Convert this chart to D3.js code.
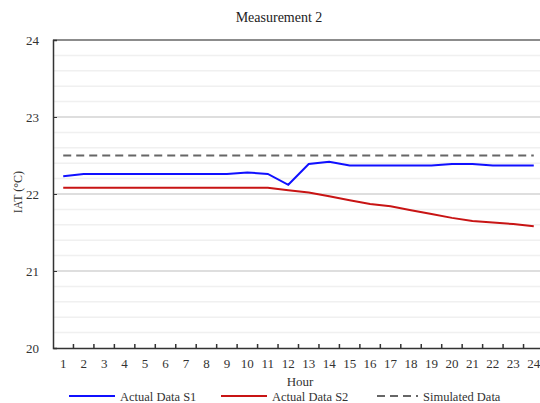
<!DOCTYPE html>
<html>
<head>
<meta charset="utf-8">
<script src="https://cdn.jsdelivr.net/npm/d3@7"></script>
<style>
  body { margin: 0; background: #fff; }
  svg { display: block; font-family: "Liberation Serif", "Times New Roman", serif; }
</style>
</head>
<body>
<div id="chart"></div>
<script>
const hours = d3.range(1, 25);
const actualS1 = [22.23, 22.26, 22.26, 22.26, 22.26, 22.26, 22.26, 22.26, 22.26, 22.28, 22.26, 22.12,
                  22.39, 22.42, 22.37, 22.37, 22.37, 22.37, 22.37, 22.39, 22.39, 22.37, 22.37, 22.37];
const actualS2 = [22.08, 22.08, 22.08, 22.08, 22.08, 22.08, 22.08, 22.08, 22.08, 22.08, 22.08, 22.05,
                  22.02, 21.97, 21.92, 21.87, 21.84, 21.79, 21.74, 21.69, 21.65, 21.63, 21.61, 21.58];
const simulated = hours.map(() => 22.5);
const yTicks = [20, 21, 22, 23, 24];

const series = [
  {name: "Actual Data S1", values: actualS1, color: "#1010ff", dash: null},
  {name: "Actual Data S2", values: actualS2, color: "#c81414", dash: null},
  {name: "Simulated Data", values: simulated, color: "#666666", dash: "8,5"}
];

const width = 540, height = 403;
const margin = {top: 40, right: -4, bottom: 55, left: 53};
const innerW = width - margin.left - margin.right;
const innerH = height - margin.top - margin.bottom;

const svg = d3.select("#chart").append("svg")
  .attr("width", width)
  .attr("height", height);

const g = svg.append("g")
  .attr("transform", "translate(" + margin.left + "," + margin.top + ")");

const x = d3.scaleBand()
  .domain(hours)
  .range([0, innerW]);

const y = d3.scaleLinear()
  .domain([20, 24])
  .range([innerH, 0]);

// gridlines: minor every 0.2, major at whole degrees
const minor = d3.range(20.2, 24, 0.2).filter(v => Math.abs(v - Math.round(v)) > 0.01);
g.append("g")
  .selectAll("line")
  .data(minor)
  .enter().append("line")
  .attr("x1", 0).attr("x2", innerW)
  .attr("y1", d => y(d)).attr("y2", d => y(d))
  .style("stroke", "#f0f0f0")
  .style("stroke-width", 1.5);

g.append("g")
  .selectAll("line")
  .data(yTicks.slice(1, -1))
  .enter().append("line")
  .attr("x1", 0).attr("x2", innerW)
  .attr("y1", d => y(d)).attr("y2", d => y(d))
  .style("stroke", "#dedede")
  .style("stroke-width", 2);

// top border
g.append("line")
  .attr("x1", 0).attr("x2", innerW)
  .attr("y1", 0).attr("y2", 0)
  .style("stroke", "#666")
  .style("stroke-width", 1.5);

const line = d3.line()
  .x((d, i) => x(hours[i]) + x.bandwidth() / 2)
  .y(d => y(d));

g.append("g")
  .selectAll("path")
  .data(series)
  .enter().append("path")
  .attr("d", d => line(d.values))
  .style("fill", "none")
  .style("stroke", d => d.color)
  .style("stroke-width", 2)
  .style("stroke-dasharray", d => d.dash);

// y axis
const yAxis = d3.axisLeft(y)
  .tickValues(yTicks)
  .tickSize(-4)
  .tickPadding(14)
  .tickFormat(d3.format("d"));

g.append("g")
  .attr("class", "y axis")
  .call(yAxis)
  .call(s => s.select(".domain").attr("stroke", "#333").attr("stroke-width", 1.5))
  .call(s => s.selectAll(".tick line").attr("stroke", "#333"))
  .selectAll("text")
  .style("font-size", "13px")
  .style("fill", "#333")
  .style("font-family", "Liberation Serif");

// x axis: ticks between categories
g.append("g")
  .attr("class", "x axis")
  .attr("transform", "translate(0," + innerH + ")")
  .call(d3.axisBottom(x).tickSize(0).tickPadding(11))
  .call(s => s.select(".domain").attr("stroke", "#333").attr("stroke-width", 1.5))
  .selectAll("text")
  .style("font-size", "13px")
  .style("fill", "#333")
  .style("font-family", "Liberation Serif");

g.append("g")
  .selectAll("line")
  .data(hours.slice(1))
  .enter().append("line")
  .attr("x1", d => x(d)).attr("x2", d => x(d))
  .attr("y1", innerH).attr("y2", innerH - 4)
  .style("stroke", "#333")
  .style("stroke-width", 1.5);

// titles
svg.append("text")
  .attr("x", 279).attr("y", 22)
  .attr("text-anchor", "middle")
  .style("font-size", "14px")
  .style("fill", "#222")
  .text("Measurement 2");

svg.append("text")
  .attr("transform", "translate(22,192) rotate(-90)")
  .attr("text-anchor", "middle")
  .style("font-size", "12px")
  .style("fill", "#333")
  .text("IAT (°C)");

svg.append("text")
  .attr("x", 300).attr("y", 386)
  .attr("text-anchor", "middle")
  .style("font-size", "13px")
  .style("fill", "#333")
  .text("Hour");

// legend
const legendX = [69, 221, 377];
const legend = svg.append("g")
  .selectAll("g")
  .data(series)
  .enter().append("g")
  .attr("transform", (d, i) => "translate(" + legendX[i] + ",396)");

legend.append("line")
  .attr("x1", 0).attr("x2", (d, i) => i === 2 ? 41 : 46)
  .attr("y1", 0).attr("y2", 0)
  .style("stroke", d => d.color)
  .style("stroke-width", 2)
  .style("stroke-dasharray", d => d.dash);

legend.append("text")
  .attr("x", (d, i) => i === 2 ? 46 : 51)
  .attr("y", 4.5)
  .style("font-size", "12.5px")
  .style("fill", "#333")
  .text(d => d.name);
</script>
</body>
</html>
